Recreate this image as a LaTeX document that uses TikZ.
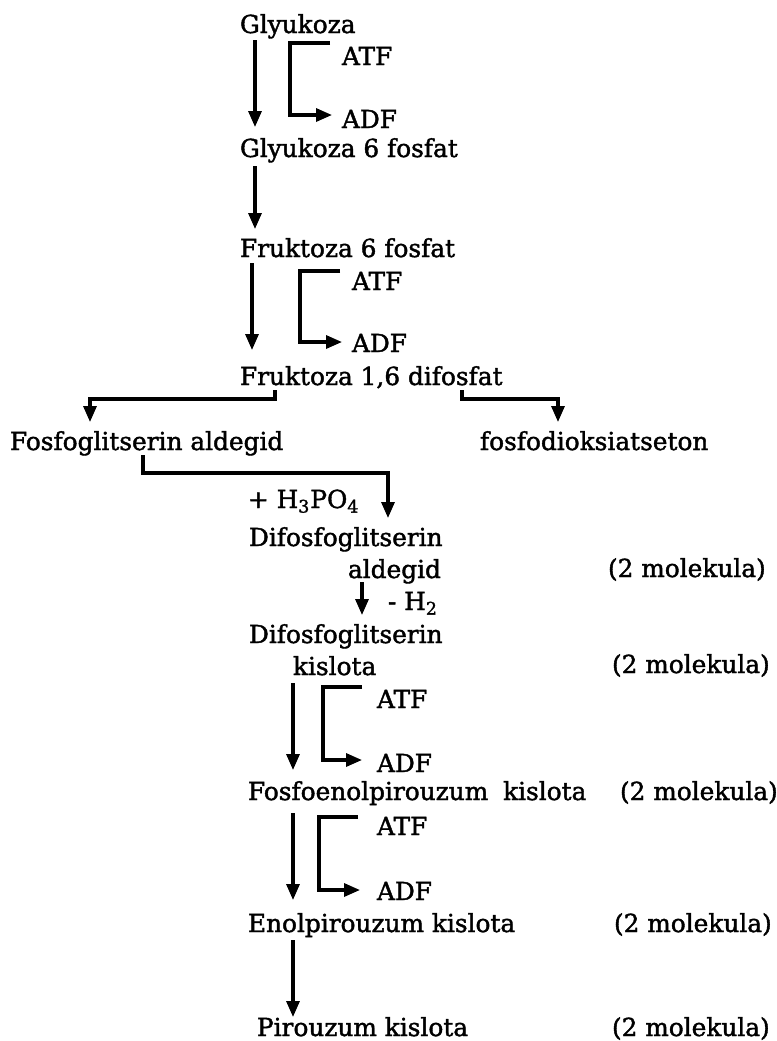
\documentclass[tikz,border=0pt]{standalone}
\usepackage{fontspec}
\setmainfont{DejaVu Serif}[FakeBold=1.6]
\usetikzlibrary{arrows.meta}
\begin{document}
\begin{tikzpicture}[x=0.5pt,y=-0.5pt,
  lbl/.style={anchor=base west,inner sep=0pt,outer sep=0pt,font=\fontsize{12.4}{14}\selectfont},
  arr/.style={line width=1.6pt,-{Triangle[length=8pt,width=6.5pt]}}]
\fill[white] (0,0) rectangle (777,1041);
\useasboundingbox (0,0) rectangle (777,1041);
% nodes (placed at text baseline, left edge)
\node[lbl] (glu)  at (240,33)   {Glyukoza};
\node[lbl] (atf1) at (342,65)   {ATF};
\node[lbl] (adf1) at (342,128)  {ADF};
\node[lbl] (g6p)  at (240,157)  {Glyukoza 6 fosfat};
\node[lbl] (f6p)  at (240,257)  {Fruktoza 6 fosfat};
\node[lbl] (atf2) at (352,290)  {ATF};
\node[lbl] (adf2) at (352,352)  {ADF};
\node[lbl] (f16)  at (240,385)  {Fruktoza 1,6 difosfat};
\node[lbl] (fga)  at (10,450)   {Fosfoglitserin aldegid};
\node[lbl] (fda)  at (480,450)  {fosfodioksiatseton};
\node[lbl] (h3)   at (248,508)  {+ H\textsubscript{3}PO\textsubscript{4}};
\node[lbl] (dfa1) at (249,546)  {Difosfoglitserin};
\node[lbl] (ald)  at (348,578)  {aldegid};
\node[lbl] (m1)   at (608,577)  {(2 molekula)};
\node[lbl] (h2)   at (388,610)  {- H\textsubscript{2}};
\node[lbl] (dfa2) at (249,643)  {Difosfoglitserin};
\node[lbl] (kis)  at (293,675)  {kislota};
\node[lbl] (m2)   at (612,673)  {(2 molekula)};
\node[lbl] (atf3) at (377,708)  {ATF};
\node[lbl] (adf3) at (377,772)  {ADF};
\node[lbl] (fep)  at (248,800)  {Fosfoenolpirouzum\hspace{0.6em}kislota};
\node[lbl] (m3)   at (620,800)  {(2 molekula)};
\node[lbl] (atf4) at (377,835)  {ATF};
\node[lbl] (adf4) at (377,900)  {ADF};
\node[lbl] (ep)   at (248,932)  {Enolpirouzum kislota};
\node[lbl] (m4)   at (614,932)  {(2 molekula)};
\node[lbl] (pk)   at (257,1036) {Pirouzum kislota};
\node[lbl] (m5)   at (612,1036) {(2 molekula)};
% main arrows
\draw[arr] ([shift={(15,7)}]glu.base west) -- ([shift={(15,-30)}]g6p.base west);
\draw[arr] ([shift={(15,9)}]g6p.base west) -- ([shift={(15,-28)}]f6p.base west);
\draw[arr] ([shift={(12,6)}]f6p.base west) -- ([shift={(12,-35)}]f16.base west);
\draw[arr] ([shift={(14,4)}]ald.base west) -- ([shift={(113,-28)}]dfa2.base west);
\draw[arr] ([shift={(0,8)}]kis.base west) -- ([shift={(45,-30)}]fep.base west);
\draw[arr] ([shift={(45,13)}]fep.base west) -- ([shift={(45,-32)}]ep.base west);
\draw[arr] ([shift={(45,8)}]ep.base west) -- ([shift={(36,-19)}]pk.base west);
% ATF/ADF brackets
\draw[arr] ([shift={(-12,-22)}]atf1.base west) -| ([shift={(-52,-13)}]adf1.base west) -- ([shift={(-10,-13)}]adf1.base west);
\draw[arr] ([shift={(-12,-19)}]atf2.base west) -| ([shift={(-52,-10)}]adf2.base west) -- ([shift={(-10,-10)}]adf2.base west);
\draw[arr] ([shift={(-15,-21)}]atf3.base west) -| ([shift={(-54,-12)}]adf3.base west) -- ([shift={(-15,-12)}]adf3.base west);
\draw[arr] ([shift={(-19,-18)}]atf4.base west) -| ([shift={(-58,-10)}]adf4.base west) -- ([shift={(-17,-10)}]adf4.base west);
% branch
\coordinate (bl) at (90,399);
\coordinate (br) at (558,399);
\coordinate (hl) at (388,473);
\draw[arr] ([shift={(35,5)}]f16.base west) |- (bl) -- ([shift={(80,-28)}]fga.base west);
\draw[arr] ([shift={(222,5)}]f16.base west) |- (br) -- ([shift={(78,-28)}]fda.base west);
\draw[arr] ([shift={(133,5)}]fga.base west) |- (hl) -- ([shift={(139,-28)}]dfa1.base west);
\end{tikzpicture}
\end{document}
